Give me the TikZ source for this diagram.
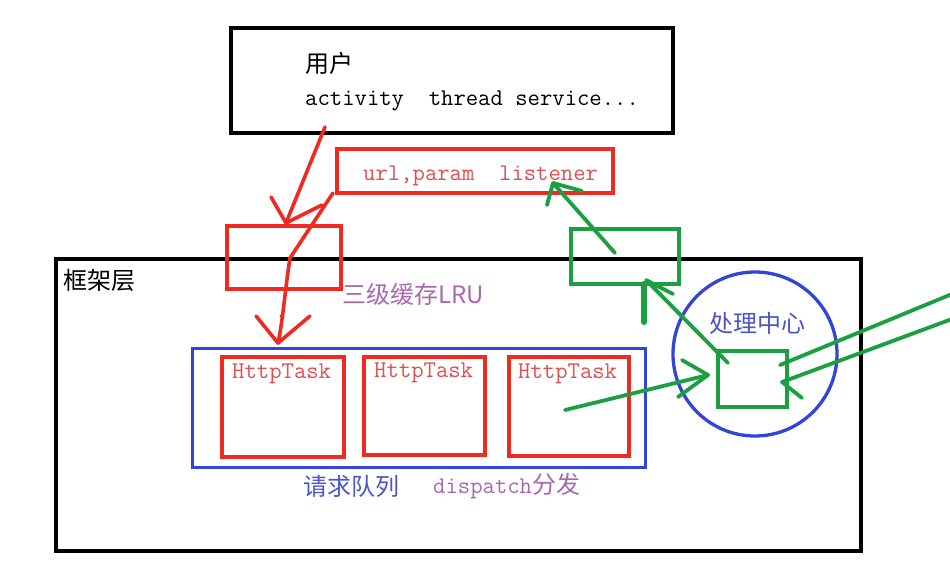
\documentclass[tikz,border=0pt]{standalone}
\usepackage{fontspec}
\newfontfamily\cjk{Noto Sans CJK SC}
\definecolor{pred}{HTML}{F02A20}
\definecolor{pgreen}{HTML}{1AA040}
\definecolor{pblue}{HTML}{3344D8}
\definecolor{tred}{HTML}{E05050}
\definecolor{tpurple}{HTML}{A868B0}
\definecolor{tblue}{HTML}{4A55CC}
\tikzset{
  blackbox/.style={draw=black, line width=4pt, rectangle, inner sep=0pt},
  redbox/.style={draw=pred, line width=3.8pt, rectangle, inner sep=0pt},
  bluebox/.style={draw=pblue, line width=3.3pt, rectangle, inner sep=0pt},
  greenbox/.style={draw=pgreen, line width=3.8pt, rectangle, inner sep=0pt},
  redpen/.style={draw=pred, line width=3.6pt, line cap=round, line join=round},
  greenpen/.style={draw=pgreen, line width=3.8pt, line cap=round, line join=round},
  monotext/.style={inner sep=0pt, anchor=base west, font=\ttfamily\fontsize{24}{28}\selectfont},
  cjktext/.style={inner sep=0pt, anchor=west, font=\cjk\fontsize{24}{28}\selectfont},
}
\begin{document}
\begin{tikzpicture}[x=1pt,y=-1pt]
\useasboundingbox[fill=white] (0,0) rectangle (950,563);

% boxes
\node[blackbox, minimum width=442pt, minimum height=105pt, anchor=north west] (user) at (229,26) {};
\node[redbox, minimum width=276pt, minimum height=44pt, anchor=north west] (req) at (335,147) {};
\node[blackbox, minimum width=805pt, minimum height=292pt, anchor=north west] (frame) at (54,257) {};
\node[redbox, minimum width=114pt, minimum height=63pt, anchor=north west] (cache) at (225,224) {};
\node[greenbox, minimum width=108pt, minimum height=55pt, anchor=north west] (back) at (569,227) {};
\node[bluebox, minimum width=453pt, minimum height=119pt, anchor=north west] (queue) at (191,347) {};
\node[redbox, minimum width=122pt, minimum height=100pt, anchor=north west] (task1) at (220,355) {};
\node[redbox, minimum width=121pt, minimum height=98pt, anchor=north west] (task2) at (362,355) {};
\node[redbox, minimum width=120pt, minimum height=99pt, anchor=north west] (task3) at (507,355) {};
\node[draw=pblue, line width=3.3pt, circle, minimum size=164pt, inner sep=0pt] (center) at (755,354) {};
\node[greenbox, minimum width=69pt, minimum height=56pt, anchor=north west] (proc) at (716,349) {};

% texts
\node[cjktext] (tuser) at (305,63) {用户};
\node[monotext] (tact) at (305,105) {activity\ \ thread service...};
\node[monotext, text=tred] (treq) at (363,180) {url,param\ \ listener};
\node[cjktext] (tframe) at (63,280) {框架层};
\node[cjktext, text=tpurple] (tcache) at (342,294) {三级缓存LRU};
\node[monotext, text=tred] (tt1) at (232,378) {HttpTask};
\node[monotext, text=tred] (tt2) at (374,377) {HttpTask};
\node[monotext, text=tred] (tt3) at (518,378) {HttpTask};
\node[cjktext, text=tblue, anchor=center] (tcenter) at (757,323) {处理中心};
\node[cjktext, text=tblue] (tqueue) at (303,486) {请求队列};
\node[cjktext, text=tpurple] (tdisp) at (433,486) {{\ttfamily\fontsize{24}{28}\selectfont dispatch}分发};

% red hand-drawn arrows
\coordinate (r1s) at (325,127);
\coordinate (r1t) at (286,223);
\coordinate (r1a) at (271,197);
\coordinate (r1b) at (322,205);
\draw[redpen] (r1s) -- (r1t);
\draw[redpen] (r1a) -- (r1t) -- (r1b);

\coordinate (r2s) at (333,193);
\coordinate (r2m) at (290,258);
\coordinate (r2t) at (278,343);
\coordinate (r2a) at (256,316);
\coordinate (r2b) at (310,316);
\draw[redpen] (r2s) -- (r2m) .. controls (285,290) and (283,320) .. (r2t);
\draw[redpen] (r2a) -- (r2t) -- (r2b);
\fill[pred] (281,316) circle (1.6pt);

% green hand-drawn arrows
\coordinate (g1s) at (728,363);
\coordinate (g1t) at (646,280);
\coordinate (g1a) at (673,294);
\coordinate (g1b) at (644,322);
\draw[greenpen] (g1s) -- (g1t) -- (g1a);
\draw[greenpen, line width=6pt] (g1b) -- (644,284);

\coordinate (g2s) at (615,253);
\coordinate (g2t) at (553,183);
\coordinate (g2a) at (547,205);
\coordinate (g2b) at (582,191);
\draw[greenpen] (g2s) -- (g2t);
\draw[greenpen] (g2a) -- (g2t) -- (g2b);

\coordinate (g3s) at (565,410);
\coordinate (g3t) at (708,375);
\coordinate (g3a) at (682,360);
\coordinate (g3b) at (678,397);
\draw[greenpen] (g3s) -- (g3t);
\draw[greenpen] (g3a) -- (g3t) -- (g3b);

\coordinate (g4s) at (952,294);
\coordinate (g4t) at (780,365);
\draw[greenpen] (g4s) -- (g4t);
\coordinate (g5s) at (952,319);
\coordinate (g5t) at (782,382);
\coordinate (g5a) at (802,398);
\draw[greenpen] (g5s) -- (g5t) -- (g5a);
\end{tikzpicture}
\end{document}
